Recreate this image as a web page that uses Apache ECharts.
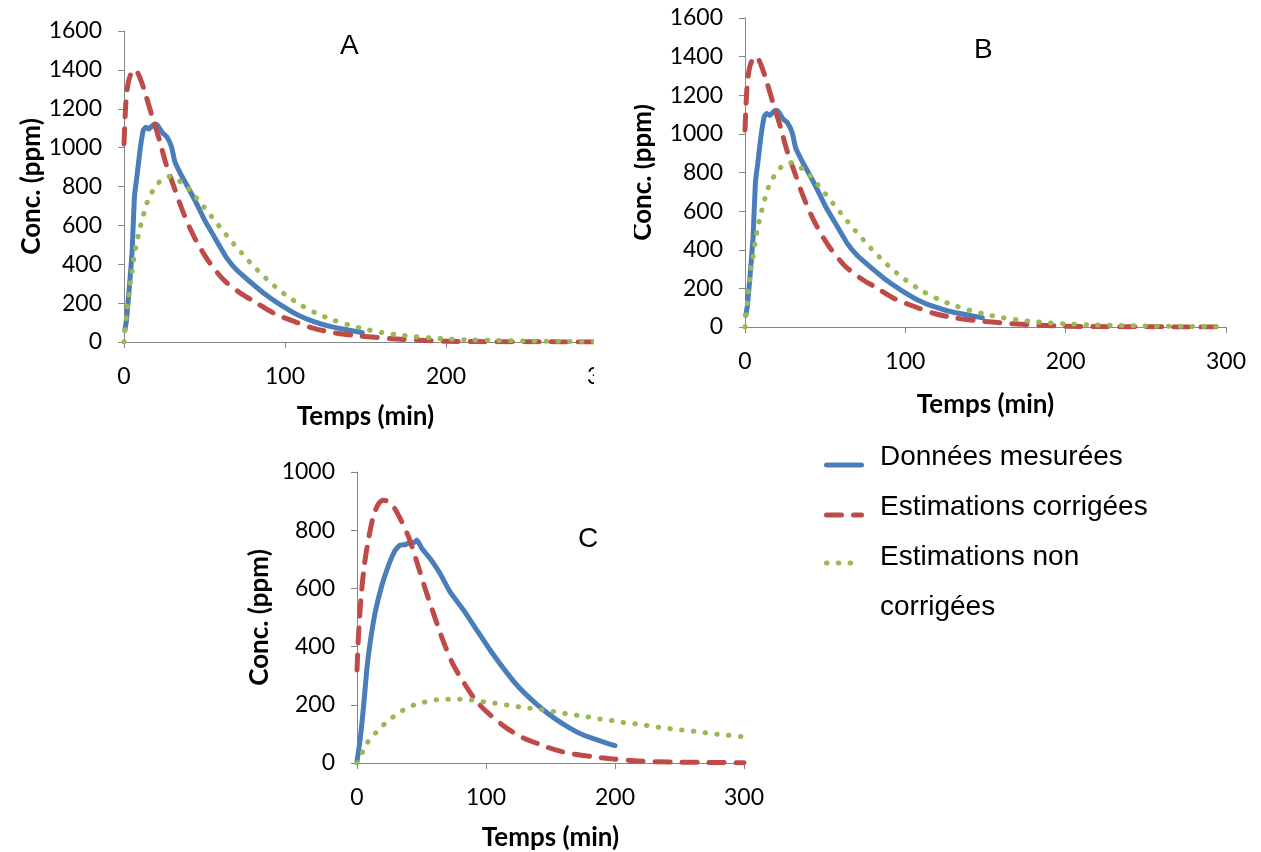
<!DOCTYPE html>
<html><head><meta charset="utf-8">
<script src="https://cdn.jsdelivr.net/npm/echarts@6/dist/echarts.min.js"></script>
<style>html,body{margin:0;padding:0;background:#fff}#c{width:1261px;height:852px}</style>
</head><body><div id="c"></div>
<script>
// ---- Labels ----
const seriesNames = ['Données mesurées', 'Estimations corrigées', 'Estimations non corrigées'];
const legendLabels = ['Données mesurées', 'Estimations corrigées', 'Estimations non\ncorrigées'];
const panelTitles = ['A', 'B', 'C'];
const xAxisName = 'Temps (min)';
const yAxisName = 'Conc. (ppm)';

// ---- Panel A / B (same curves) ----
const measuredT_AB = [0.5, 1.5, 3, 5, 6.5, 8, 10, 12, 13.5, 15.5, 17, 19, 20.5, 22, 24, 26.5, 29.5, 31.5, 35, 39.5, 44.5, 50, 56, 64, 70, 77, 87, 97.5, 108, 118, 128.5, 139, 148];
const measuredV_AB = [60, 110, 250, 460, 750, 850, 990, 1090, 1105, 1095, 1108, 1122, 1118, 1100, 1075, 1057, 1005, 930, 868, 800, 722, 628, 542, 430, 370, 319, 250, 190, 139, 105, 79, 62, 48];
const correctedT_AB = [0, 1, 2, 3, 5, 7, 10, 13.5, 17.5, 22, 26, 31, 37, 43.5, 52, 62, 72.5, 81, 93, 106, 118, 131, 143, 156, 167, 184, 200, 220, 250, 300];
const correctedV_AB = [1020, 1210, 1300, 1348, 1390, 1400, 1357, 1271, 1160, 1039, 919, 799, 662, 542, 422, 319, 250, 208, 148, 105, 70, 47, 34, 24, 17, 9, 4, 2, 1, 0];
const uncorrT_AB = [0, 1, 2, 3, 4, 5, 6.5, 8, 10, 12, 14, 17, 21, 25, 28, 31, 35, 40, 45, 50, 55, 60, 65, 70, 75, 80, 85, 90, 95, 100, 110, 120, 130, 140, 150, 160, 170, 180, 190, 200, 215, 230, 250, 275, 300];
const uncorrV_AB = [0, 90, 175, 245, 315, 362, 450, 515, 590, 652, 710, 765, 815, 843, 851, 845, 825, 790, 741, 691, 639, 587, 536, 487, 440, 394, 353, 313, 277, 245, 189, 146, 113, 87, 66, 49, 37, 28, 21, 16, 11, 8, 5, 3, 2];

// ---- Panel C ----
const measuredT_C = [0, 2.6, 5.2, 7.7, 10.3, 14.2, 19.3, 24.5, 29.6, 33.5, 37.4, 41, 44, 46.4, 50.3, 56.7, 64.4, 72, 82.5, 92.8, 103, 113.4, 123.7, 134, 144.3, 154.6, 165, 175, 185.6, 195.9, 200];
const measuredV_C = [5, 86, 200, 326, 417, 520, 611, 680, 731, 749, 750, 758, 757, 766, 737, 703, 651, 589, 526, 457, 389, 326, 269, 223, 183, 149, 120, 97, 80, 65, 60];
const correctedT_C = [0, 1.3, 3.1, 5.7, 9, 12.9, 16.8, 20.6, 24.5, 28.4, 33.5, 40, 46.4, 52.8, 59.3, 67, 74.7, 83.8, 92.8, 103, 116, 129, 141.8, 154.6, 167.5, 183, 196, 218, 244, 270, 300];
const correctedV_C = [320, 451, 566, 680, 771, 851, 891, 903, 897, 880, 840, 777, 691, 600, 514, 417, 337, 269, 211, 166, 120, 86, 64, 44, 31, 22, 15, 7, 3, 2, 1];
const uncorrT_C = [0, 4.4, 8.2, 14.2, 20.6, 27.6, 34.8, 43.3, 52, 61, 70, 79, 88, 97, 106, 115, 124, 133, 142, 151, 160, 169, 178, 187, 196, 205, 214, 223, 232, 241, 250, 259, 268, 277, 286, 298];
const uncorrV_C = [0, 38, 71, 102, 131, 157, 179, 198, 209, 217, 219, 219, 217, 211, 206, 200, 194, 189, 184, 178, 171, 165, 159, 152, 147, 140, 136, 130, 124, 119, 114, 110, 105, 100, 96, 91];

// ---- Axis ranges ----
const xRange = [0, 300, 100];
const yRangeAB = [0, 1600, 200];
const yRangeC = [0, 1000, 200];

const zip = (t, v) => t.map((x, i) => [x, v[i]]);
const colors = ['#4A7EBB', '#BE4B48', '#98B954'];
const lineStyles = [
  { color: colors[0], width: 5, type: 'solid', cap: 'round', join: 'round' },
  { color: colors[1], width: 5, type: [15, 12], cap: 'round', join: 'round' },
  { color: colors[2], width: 5, type: [0.5, 11.3], cap: 'round', join: 'round' }
];
const panels = [
  { data: [zip(measuredT_AB, measuredV_AB), zip(correctedT_AB, correctedV_AB), zip(uncorrT_AB, uncorrV_AB)], y: yRangeAB,
    grid: { left: 124, top: 31, width: 483, height: 311 }, yGap: 72, xGap: 62 },
  { data: [zip(measuredT_AB, measuredV_AB), zip(correctedT_AB, correctedV_AB), zip(uncorrT_AB, uncorrV_AB)], y: yRangeAB,
    grid: { left: 745, top: 18, width: 481, height: 309 }, yGap: 89, xGap: 65 },
  { data: [zip(measuredT_C, measuredV_C), zip(correctedT_C, correctedV_C), zip(uncorrT_C, uncorrV_C)], y: yRangeC,
    grid: { left: 357, top: 472, width: 387, height: 292 }, yGap: 84, xGap: 62 }
];

const axisLine = { show: true, lineStyle: { color: '#868686', width: 1 } };
const axisTick = { show: true, length: 6, lineStyle: { color: '#868686', width: 1 } };
const labelFont = { fontFamily: 'Lato', fontSize: 23, color: '#000' };
const nameFont = { fontFamily: 'Lato', fontSize: 26, fontWeight: 'bold', color: '#000' };

const grid = [], xAxis = [], yAxis = [], series = [];
panels.forEach((p, i) => {
  grid.push(Object.assign({ containLabel: false }, p.grid));
  xAxis.push({ type: 'value', gridIndex: i, min: xRange[0], max: xRange[1], interval: xRange[2],
    axisLine, axisTick, splitLine: { show: false },
    axisLabel: Object.assign({ margin: 23, showMaxLabel: true, formatter: v => String(v) }, labelFont),
    name: xAxisName, nameLocation: 'middle', nameGap: p.xGap, nameTextStyle: nameFont });
  yAxis.push({ type: 'value', gridIndex: i, min: p.y[0], max: p.y[1], interval: p.y[2],
    axisLine, axisTick, splitLine: { show: false },
    axisLabel: Object.assign({ margin: 22, formatter: v => String(v) }, labelFont),
    name: yAxisName, nameLocation: 'middle', nameGap: p.yGap, nameTextStyle: nameFont });
  p.data.forEach((d, k) => {
    series.push({ type: 'line', name: seriesNames[k], xAxisIndex: i, yAxisIndex: i, data: d,
      symbol: 'none', showSymbol: false, smooth: k === 0 ? 0.15 : 0.3,
      lineStyle: lineStyles[k], color: colors[k], animation: false, z: 2 + k });
  });
});

const titleFont = { fontFamily: 'Liberation Sans', fontSize: 28, fontWeight: 'normal', color: '#000' };
const title = [
  { text: panelTitles[0], left: 340, top: 32, padding: 0, textStyle: titleFont },
  { text: panelTitles[1], left: 974, top: 36, padding: 0, textStyle: titleFont },
  { text: panelTitles[2], left: 578, top: 525, padding: 0, textStyle: titleFont }
];

// Legend: symbols (one legend per item) + texts (one legend, no icons)
const iconTops = [458, 508, 556];
const legend = seriesNames.map((name, k) => ({
  data: [name], left: 824, top: iconTops[k], padding: 0, itemWidth: 35, itemHeight: 14,
  selectedMode: false, itemStyle: { opacity: 0 }, formatter: () => '',
  lineStyle: { color: colors[k], width: 5, type: lineStyles[k].type, cap: 'round', opacity: 1 },
  textStyle: { fontSize: 8 }
}));
legend.push({
  data: seriesNames.map(n => ({ name: n, icon: 'none' })), left: 880 - 43, top: 432, padding: 0,
  orient: 'vertical', itemGap: 0, itemWidth: 38, itemHeight: 14, selectedMode: false,
  formatter: name => legendLabels[seriesNames.indexOf(name)],
  textStyle: { fontFamily: 'Liberation Sans', fontSize: 28, color: '#000', lineHeight: 50 }
});

const chart = echarts.init(document.getElementById('c'), null, { renderer: 'canvas' });
chart.setOption({
  animation: false,
  backgroundColor: '#fff',
  title, legend, grid, xAxis, yAxis, series,
  graphic: [{ type: 'rect', left: 594, top: 0, shape: { width: 40, height: 435 }, style: { fill: '#fff' }, z: 100 }]
});
</script></body></html>
